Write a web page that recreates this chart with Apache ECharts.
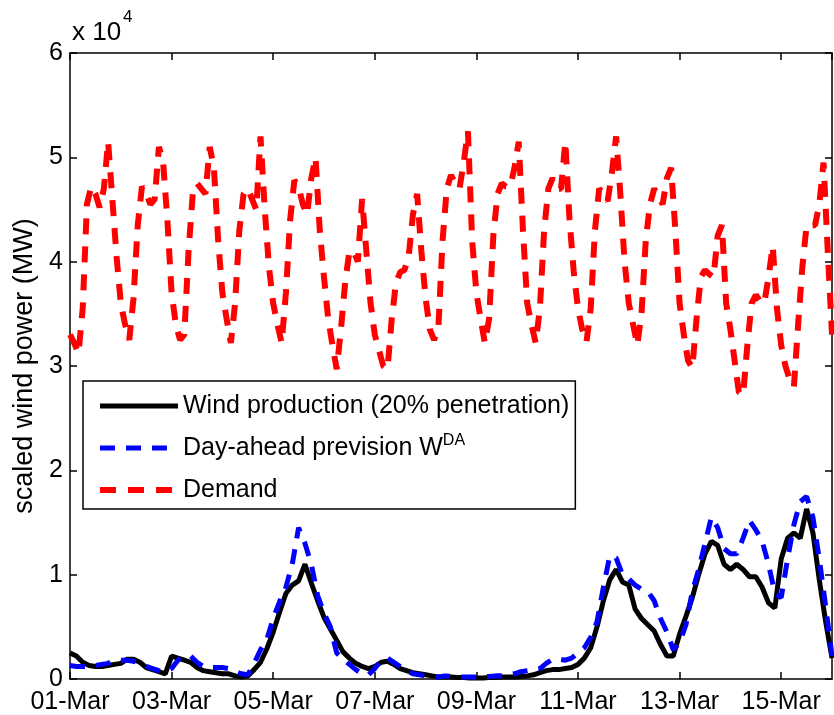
<!DOCTYPE html>
<html>
<head>
<meta charset="utf-8">
<script src="https://cdn.jsdelivr.net/npm/echarts@6/dist/echarts.min.js"></script>
<style>
html,body{margin:0;padding:0;background:#fff}
#c{width:834px;height:715px}
</style>
</head>
<body>
<div id="c"></div>
<script>
// ---- data ----
const xTickLabels = ['01-Mar','03-Mar','05-Mar','07-Mar','09-Mar','11-Mar','13-Mar','15-Mar'];
const yTickLabels = ['0','1','2','3','4','5','6'];
const seriesNames = ['Wind production (20% penetration)', 'Day-ahead prevision W^DA', 'Demand'];

// hours between consecutive samples, counted from 01-Mar 00:00
const windStepHours = 3;
const demandStepHours = 2;

// MW
const windProduction = [
  2500,2200,1600,1300,1200,1200,1300,1400,1500,1900,
  1900,1600,1100,900,700,500,2200,2000,1800,1600,
  1100,800,700,600,500,500,300,200,300,900,
  1600,2900,4500,6400,8200,9000,9400,11000,9200,7500,
  5900,4800,3700,2600,2000,1500,1200,1000,1200,1600,
  1700,1400,1000,800,600,500,400,300,200,200,
  200,150,150,100,100,100,150,150,200,200,
  200,250,300,400,600,800,900,900,1000,1100,
  1400,2000,3000,5000,7500,9500,10500,9300,9000,6700,
  5800,5200,4600,3300,2200,2200,4300,6000,7800,10000,
  12000,13200,12800,11000,10500,11000,10500,9800,9800,8800,
  7300,6800,11500,13500,14000,13500,16300,14000,9500,5500,
  2000
];

const dayAheadForecast = [
  1300,1200,1200,1200,1300,1400,1500,1800,1800,1800,
  1700,1500,1200,1000,800,700,1000,1800,2200,2200,
  1600,1200,1100,1100,1100,1000,700,500,400,1500,
  2800,3800,5800,7400,8800,11000,14500,13000,11000,8000,
  6300,5000,2500,1900,1400,900,500,400,1000,1800,
  2000,1600,1200,800,500,400,300,250,200,300,
  250,200,200,200,200,200,250,300,300,400,
  500,700,800,900,1000,1500,1900,1900,1800,2000,
  2500,3000,4000,5500,8800,11800,11600,10000,9600,9000,
  8600,8400,7500,5800,4500,2800,3500,5200,8400,10500,
  13000,15500,14500,12500,12000,12000,13500,15200,14300,13200,
  11000,8200,7800,11500,14800,17000,17500,15500,11500,7000,
  2200
];

const demand = [
  33000,32200,31200,35500,45500,47200,46500,45200,47000,51500,46000,40500,
  36000,34000,32500,36500,43500,47200,46500,45500,46000,51000,49500,44000,
  37000,34000,32500,33000,41000,46500,47500,47000,46500,51000,49000,42000,
  37000,34500,32200,36000,43000,46500,47000,46000,45000,52000,45000,39500,
  36000,34000,32200,37000,44000,47800,47200,45500,44500,48000,50000,43000,
  38500,34500,32000,29700,33500,38000,41000,41000,40000,46000,41000,36000,
  33000,31500,30000,29700,34500,38000,39000,39200,40500,44500,46500,41000,
  36500,33500,32500,33500,42000,47000,48300,47500,47000,49500,52500,42000,
  37000,34500,32200,34500,42500,46500,47500,47200,47200,49000,51500,43000,
  36000,34000,32200,35500,43000,47000,48000,47000,47000,51500,44000,39000,
  35500,33500,32300,35500,43000,47000,46500,45800,48500,52000,46500,40000,
  36000,34000,32000,35000,42000,45500,47000,46200,45500,48000,49000,43000,
  36000,33000,30500,29800,34500,38500,39200,38800,38500,42500,43500,36000,
  33500,30500,27500,27200,32000,36000,36800,36200,36000,38500,41500,35500,
  32000,30000,28700,28000,34000,39500,43500,43500,43500,45500,49500,41000,
  33000
];

// ---- chart ----
function toPairs(values, step) { return values.map((v, i) => [i * step, v]); }

const FONT = '"Liberation Sans", Arial, Helvetica, sans-serif';
const colors = ['#000000', '#0000ff', '#ff0000'];
const dashes = ['solid', [15, 11], [16, 12]];
const widths = [5, 5, 6];

function axisLine() { return { show: true, onZero: false, lineStyle: { color: '#000', width: 1.5 } }; }
function axisTick() { return { show: true, inside: true, length: 7, lineStyle: { color: '#000', width: 1.5 } }; }

const chart = echarts.init(document.getElementById('c'), null, { renderer: 'canvas' });

const option = {
  animation: false,
  backgroundColor: '#fff',
  grid: { left: 70, right: 2, top: 53, bottom: 36, containLabel: false },
  xAxis: [
    {
      type: 'value', min: 0, max: 360, interval: 48, position: 'bottom',
      axisLine: axisLine(), axisTick: axisTick(), splitLine: { show: false },
      axisLabel: {
        fontSize: 25, color: '#000', fontFamily: FONT, margin: 11,
        showMaxLabel: false,
        formatter: v => xTickLabels[Math.round(v / 48)] || ''
      }
    },
    {
      type: 'value', min: 0, max: 360, interval: 48, position: 'top',
      axisLine: axisLine(), axisTick: axisTick(), splitLine: { show: false }, axisLabel: { show: false }
    }
  ],
  yAxis: [
    {
      type: 'value', min: 0, max: 60000, interval: 10000, position: 'left',
      axisLine: axisLine(), axisTick: axisTick(), splitLine: { show: false },
      axisLabel: {
        fontSize: 25, color: '#000', fontFamily: FONT, margin: 7,
        formatter: v => yTickLabels[Math.round(v / 10000)]
      },
      name: 'scaled wind power (MW)', nameLocation: 'middle', nameGap: 30,
      nameTextStyle: { fontSize: 27, color: '#000', fontFamily: FONT }
    },
    {
      type: 'value', min: 0, max: 60000, interval: 10000, position: 'right',
      axisLine: axisLine(), axisTick: axisTick(), splitLine: { show: false }, axisLabel: { show: false }
    }
  ],
  legend: {
    orient: 'vertical', left: 83, top: 381,
    itemWidth: 78, itemHeight: 14, itemGap: 12,
    padding: [10, 6, 4, 14],
    borderColor: '#000', borderWidth: 1.5, borderRadius: 0,
    backgroundColor: '#fff',
    textStyle: {
      fontSize: 25, color: '#000', fontFamily: FONT, lineHeight: 30,
      rich: { sup: { fontSize: 16, lineHeight: 14, verticalAlign: 'top', color: '#000', fontFamily: FONT } }
    },
    formatter: name => name.replace(/\^(\w+)/, '{sup|$1}'),
    data: seriesNames.map((n, i) => ({
      name: n,
      itemStyle: { opacity: 0, borderWidth: 0 },
      lineStyle: { color: colors[i], width: widths[i], type: dashes[i] }
    }))
  },
  graphic: [
    { type: 'text', x: 72, y: 20, style: { text: 'x 10', fontSize: 26, fontFamily: FONT, fill: '#000', align: 'left', verticalAlign: 'top' } },
    { type: 'text', x: 123, y: 9, style: { text: '4', fontSize: 17, fontFamily: FONT, fill: '#000', align: 'left', verticalAlign: 'top' } }
  ],
  series: [
    {
      name: seriesNames[0], type: 'line', data: toPairs(windProduction, windStepHours),
      symbol: 'none', showSymbol: false, z: 2,
      lineStyle: { color: colors[0], width: widths[0], type: dashes[0] }
    },
    {
      name: seriesNames[1], type: 'line', data: toPairs(dayAheadForecast, windStepHours),
      symbol: 'none', showSymbol: false, z: 3,
      lineStyle: { color: colors[1], width: widths[1], type: dashes[1] }
    },
    {
      name: seriesNames[2], type: 'line', data: toPairs(demand, demandStepHours),
      symbol: 'none', showSymbol: false, z: 4,
      lineStyle: { color: colors[2], width: widths[2], type: dashes[2] }
    }
  ]
};

chart.setOption(option);
</script>
</body>
</html>
